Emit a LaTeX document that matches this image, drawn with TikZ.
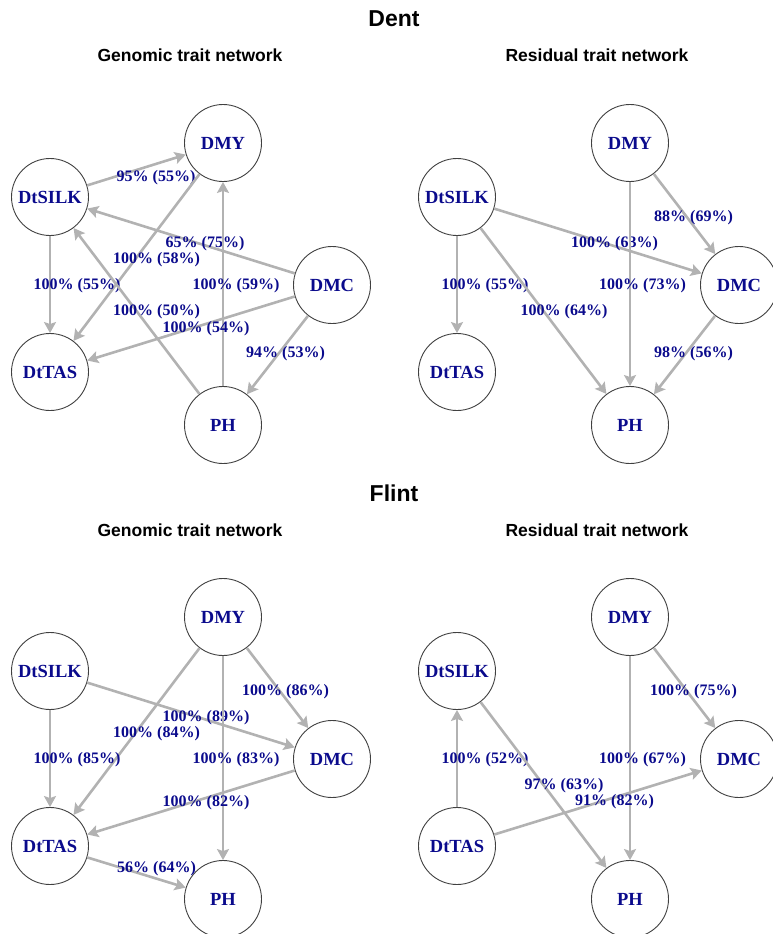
\documentclass[tikz,border=0pt]{standalone}
\usepackage{fontspec}
\setmainfont{Liberation Serif}
\setsansfont{Liberation Sans}
\usepackage{tikz}
\usetikzlibrary{arrows.meta}
\usepackage{xcolor}
\definecolor{traitblue}{RGB}{10,10,140}
\definecolor{edgegray}{RGB}{178,178,178}

% the five traits, same layout in every panel
\newcommand{\traitnodes}[1]{%
  \node[trait] (#1dmy)  at (223,143) {DMY};
  \node[trait] (#1silk) at (50,197)  {DtSILK};
  \node[trait] (#1dmc)  at (332,285) {DMC};
  \node[trait] (#1tas)  at (50,372)  {DtTAS};
  \node[trait] (#1ph)   at (223,425) {PH};
}

\begin{document}
\begin{tikzpicture}[
  x=1pt, y=-1pt,
  trait/.style={circle, draw=black!75, line width=0.9pt, minimum size=77pt, inner sep=0pt,
                text=traitblue, font=\fontsize{18.5}{20}\selectfont\bfseries},
  edge/.style={-{Stealth[length=11pt, width=12pt, inset=2pt]}, draw=edgegray, line width=2.6pt},
  lbl/.style={text=traitblue, inner sep=0pt, font=\fontsize{16}{18}\selectfont\bfseries},
  title/.style={anchor=base, font=\sffamily\bfseries\fontsize{23}{26}\selectfont},
  subtitle/.style={anchor=base, font=\sffamily\bfseries\fontsize{17.5}{20}\selectfont}
]
  \path[use as bounding box, clip] (0,0) rectangle (773,934);

  % Titles
  \node[title] (dent) at (394,27) {Dent};
  \node[subtitle] (dentgen) at (190,62) {Genomic trait network};
  \node[subtitle] (dentres) at (597,62) {Residual trait network};
  \node[title] (flint) at (394,501) {Flint};
  \node[subtitle] (flintgen) at (190,536) {Genomic trait network};
  \node[subtitle] (flintres) at (597,536) {Residual trait network};

  % Dent, genomic
  \begin{scope}
    \traitnodes{dg}
    \draw[edge] (dgsilk) -- node[lbl, shift={(19.5,8)}] {95\% (55\%)} (dgdmy);
    \draw[edge] (dgdmy) -- node[lbl, shift={(20,2.5)}] {100\% (58\%)} (dgtas);
    \draw[edge] (dgdmc) -- node[lbl, shift={(14,3)}] {65\% (75\%)} (dgsilk);
    \draw[edge] (dgsilk) -- node[lbl, shift={(27,1.5)}] {100\% (55\%)} (dgtas);
    \draw[edge] (dgph) -- node[lbl, shift={(20,1)}] {100\% (50\%)} (dgsilk);
    \draw[edge] (dgph) -- node[lbl, shift={(13,2)}] {100\% (59\%)} (dgdmy);
    \draw[edge] (dgdmc) -- node[lbl, shift={(15,0)}] {100\% (54\%)} (dgtas);
    \draw[edge] (dgdmc) -- node[lbl, shift={(8,-1)}] {94\% (53\%)} (dgph);
  \end{scope}

  % Dent, residual
  \begin{scope}[shift={(407,0)}]
    \traitnodes{dr}
    \draw[edge] (drdmy) -- node[lbl, shift={(9,4)}] {88\% (69\%)} (drdmc);
    \draw[edge] (drsilk) -- node[lbl, shift={(16.5,3)}] {100\% (63\%)} (drdmc);
    \draw[edge] (drsilk) -- node[lbl, shift={(28,1.5)}] {100\% (55\%)} (drtas);
    \draw[edge] (drdmy) -- node[lbl, shift={(12.5,2)}] {100\% (73\%)} (drph);
    \draw[edge] (drsilk) -- node[lbl, shift={(20.5,1)}] {100\% (64\%)} (drph);
    \draw[edge] (drdmc) -- node[lbl, shift={(9,-1)}] {98\% (56\%)} (drph);
  \end{scope}

  % Flint, genomic
  \begin{scope}[shift={(0,474)}]
    \traitnodes{fg}
    \draw[edge] (fgdmy) -- node[lbl, shift={(8,4)}] {100\% (86\%)} (fgdmc);
    \draw[edge] (fgsilk) -- node[lbl, shift={(15,2.5)}] {100\% (89\%)} (fgdmc);
    \draw[edge] (fgdmy) -- node[lbl, shift={(20,2.5)}] {100\% (84\%)} (fgtas);
    \draw[edge] (fgsilk) -- node[lbl, shift={(27,1.5)}] {100\% (85\%)} (fgtas);
    \draw[edge] (fgdmy) -- node[lbl, shift={(13,2)}] {100\% (83\%)} (fgph);
    \draw[edge] (fgdmc) -- node[lbl, shift={(15,0)}] {100\% (82\%)} (fgtas);
    \draw[edge] (fgtas) -- node[lbl, shift={(20,-3.5)}] {56\% (64\%)} (fgph);
  \end{scope}

  % Flint, residual
  \begin{scope}[shift={(407,474)}]
    \traitnodes{fr}
    \draw[edge] (frdmy) -- node[lbl, shift={(9,4)}] {100\% (75\%)} (frdmc);
    \draw[edge] (frtas) -- node[lbl, shift={(28,1.5)}] {100\% (52\%)} (frsilk);
    \draw[edge] (frdmy) -- node[lbl, shift={(12.5,2)}] {100\% (67\%)} (frph);
    \draw[edge] (frsilk) -- node[lbl, shift={(20.5,0.5)}] {97\% (63\%)} (frph);
    \draw[edge] (frtas) -- node[lbl, shift={(16.5,-0.5)}] {91\% (82\%)} (frdmc);
  \end{scope}
\end{tikzpicture}
\end{document}
